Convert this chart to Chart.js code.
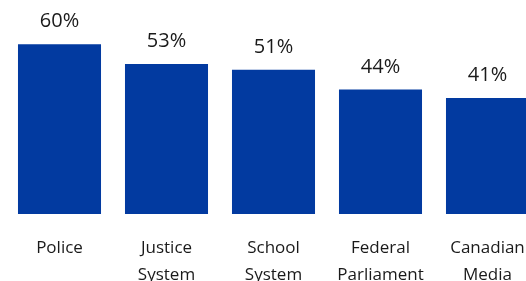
<!DOCTYPE html>
<html>
<head>
<meta charset="utf-8">
<script src="https://cdn.jsdelivr.net/npm/chart.js@4/dist/chart.umd.min.js"></script>
<style>
html,body{margin:0;padding:0;background:#fff;overflow:hidden;width:526px;height:281px;}
#wrap{position:absolute;left:0;top:0;width:560px;height:324px;}
</style>
</head>
<body>
<div id="wrap"><canvas id="c" width="560" height="324"></canvas></div>
<script>
const categories = [["Police"], ["Justice", "System"], ["School", "System"], ["Federal", "Parliament"], ["Canadian", "Media"]];
const values = [60, 53, 51, 44, 41];
const valueLabels = ["60%", "53%", "51%", "44%", "41%"];

const barColor = '#023AA0';
const textColor = '#1a1a1a';
const fontFamily = '"Open Sans", sans-serif';

const labelPlugin = {
  id: 'valueLabels',
  afterDatasetsDraw(chart) {
    const ctx = chart.ctx;
    const meta = chart.getDatasetMeta(0);
    ctx.save();
    ctx.fillStyle = textColor;
    ctx.font = '20px ' + fontFamily;
    ctx.textAlign = 'center';
    ctx.textBaseline = 'alphabetic';
    meta.data.forEach((bar, i) => {
      ctx.fillText(valueLabels[i], bar.x, bar.y - 17);
    });
    ctx.restore();
  }
};

new Chart(document.getElementById('c'), {
  type: 'bar',
  data: {
    labels: categories,
    datasets: [{
      data: values,
      backgroundColor: barColor,
      borderWidth: 0,
      categoryPercentage: 1,
      barPercentage: 0.776
    }]
  },
  options: {
    responsive: false,
    animation: false,
    devicePixelRatio: 1,
    layout: { padding: { left: 6, right: 19, top: 16, bottom: 15 } },
    plugins: { legend: { display: false }, tooltip: { enabled: false } },
    scales: {
      y: { display: false, min: 0, max: 70 },
      x: {
        grid: { display: false, drawTicks: false },
        border: { display: false },
        ticks: {
          color: textColor,
          padding: 21,
          maxRotation: 0,
          autoSkip: false,
          font: { family: fontFamily, size: 17, lineHeight: 1.56 }
        }
      }
    }
  },
  plugins: [labelPlugin]
});
</script>
</body>
</html>
